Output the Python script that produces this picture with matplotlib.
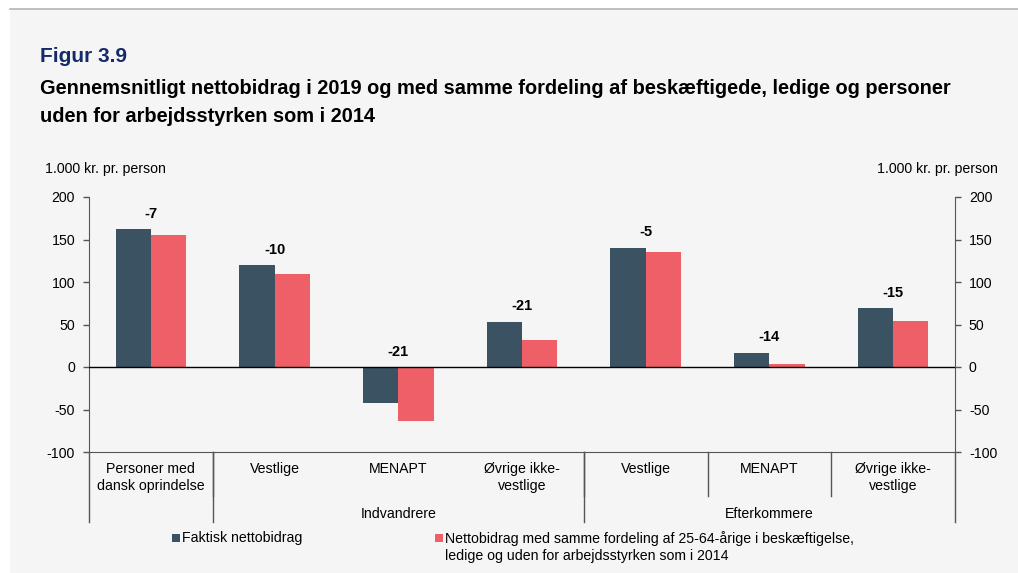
import matplotlib
matplotlib.use("Agg")
import matplotlib.pyplot as plt
from matplotlib.patches import Rectangle
from matplotlib.lines import Line2D

plt.rcParams['font.family'] = ['Liberation Sans', 'DejaVu Sans']
plt.rcParams['axes.unicode_minus'] = False

categories = ["Personer med\ndansk oprindelse", "Vestlige", "MENAPT", "Øvrige ikke-\nvestlige",
              "Vestlige", "MENAPT", "Øvrige ikke-\nvestlige"]
groups = ["Indvandrere", "Efterkommere"]
faktisk = [162, 120, -42, 53, 140, 17, 69]
samme_fordeling = [155, 110, -63, 32, 135, 3, 54]
diff_labels = ["-7", "-10", "-21", "-21", "-5", "-14", "-15"]
yticks = [-100, -50, 0, 50, 100, 150, 200]

W, H = 1018, 573
dark = '#3b5262'
red = '#ee5f68'
bg = '#f5f5f5'
navy = '#152a6b'


def fx(px):
    return px / W


def fy(py):
    return 1 - py / H


fig = plt.figure(figsize=(W / 100, H / 100), dpi=100, facecolor='white')
fig.add_artist(Rectangle((fx(10), 0), 1 - fx(10), fy(9), transform=fig.transFigure,
                         facecolor=bg, edgecolor='none', zorder=-10))
fig.add_artist(Line2D([fx(10), 1], [fy(9), fy(9)], transform=fig.transFigure,
                      color='#b4b4b4', lw=1.2))

fig.text(fx(40), fy(57), "Figur 3.9", color=navy, fontsize=15, fontweight='bold', va='center')
fig.text(fx(40), fy(89), "Gennemsnitligt nettobidrag i 2019 og med samme fordeling af beskæftigede, ledige og personer",
         fontsize=14.4, fontweight='bold', va='center')
fig.text(fx(40), fy(116), "uden for arbejdsstyrken som i 2014", fontsize=14.4, fontweight='bold', va='center')
fig.text(fx(45), fy(169), "1.000 kr. pr. person", fontsize=10.2, va='center')
fig.text(fx(998), fy(169), "1.000 kr. pr. person", fontsize=10.2, va='center', ha='right')

ax = fig.add_axes([fx(89), fy(452), fx(955 - 89), (452 - 197) / H])
ax.set_facecolor('none')
x = list(range(len(categories)))
w = 0.285
ax.bar([i - w / 2 for i in x], faktisk, width=w, color=dark, zorder=2)
ax.bar([i + w / 2 for i in x], samme_fordeling, width=w, color=red, zorder=2)
for i in x:
    top = max(faktisk[i], samme_fordeling[i], 0)
    ax.text(i, top + 10, diff_labels[i], ha='center', va='bottom', fontsize=10.5, fontweight='bold')

ax.axhline(0, color='black', lw=1, zorder=3)
ax.set_xlim(-0.5, len(categories) - 0.5)
ax.set_ylim(-100, 200)
ax.set_yticks(yticks)
ax.set_xticks([])
ax2 = ax.twinx()
ax2.set_ylim(-100, 200)
ax2.set_yticks(yticks)
for a in (ax, ax2):
    for s in a.spines.values():
        s.set_visible(False)
    a.tick_params(axis='y', length=4, width=1, color='#555555', labelsize=10.2, pad=6)
ax.spines['left'].set_visible(True)
ax.spines['left'].set_color('#555555')
ax2.spines['right'].set_visible(True)
ax2.spines['right'].set_color('#555555')
ax.spines['bottom'].set_visible(True)
ax.spines['bottom'].set_color('#555555')


# category axis below the plot
def ay(py):
    return (452 - py) / 255


tr = ax.get_xaxis_transform()
for i, lab in enumerate(categories):
    ax.text(i, ay(462), lab, transform=tr, ha='center', va='top', fontsize=10.2, linespacing=1.25)
for b in [0.5, 3.5, 4.5, 5.5]:
    ax.plot([b, b], [0, ay(496)], transform=tr, color='#555555', lw=1, clip_on=False)
for b in [-0.5, 0.5, 3.5, 6.5]:
    ax.plot([b, b], [0, ay(522)], transform=tr, color='#555555', lw=1, clip_on=False)
ax.text(2, ay(514), groups[0], transform=tr, ha='center', va='center', fontsize=10.2)
ax.text(5, ay(514), groups[1], transform=tr, ha='center', va='center', fontsize=10.2)

# legend
fig.add_artist(Rectangle((fx(172), fy(542)), fx(8), 8 / H, transform=fig.transFigure,
                         facecolor=dark, edgecolor='none'))
fig.text(fx(182), fy(538), "Faktisk nettobidrag", fontsize=10.2, va='center')
fig.add_artist(Rectangle((fx(435), fy(542)), fx(8), 8 / H, transform=fig.transFigure,
                         facecolor=red, edgecolor='none'))
fig.text(fx(445), fy(547), "Nettobidrag med samme fordeling af 25-64-årige i beskæftigelse,\nledige og uden for arbejdsstyrken som i 2014",
         fontsize=10.2, va='center', linespacing=1.25)

fig.savefig("out.png", dpi=100, facecolor=fig.get_facecolor())
